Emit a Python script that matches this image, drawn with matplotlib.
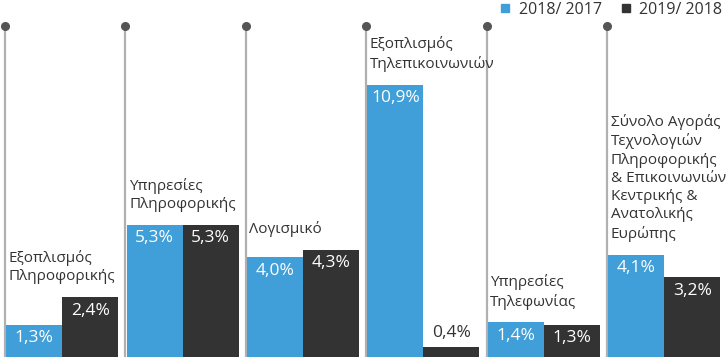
import matplotlib.pyplot as plt
from matplotlib.lines import Line2D

plt.rcParams['font.family'] = ['Open Sans', 'DejaVu Sans']

categories = [
    'Εξοπλισμός\nΠληροφορικής',
    'Υπηρεσίες\nΠληροφορικής',
    'Λογισμικό',
    'Εξοπλισμός\nΤηλεπικοινωνιών',
    'Υπηρεσίες\nΤηλεφωνίας',
    'Σύνολο Αγοράς\nΤεχνολογιών\nΠληροφορικής\n& Επικοινωνιών\nΚεντρικής &\nΑνατολικής\nΕυρώπης',
]
growth_2018 = [1.3, 5.3, 4.0, 10.9, 1.4, 4.1]
growth_2019 = [2.4, 5.3, 4.3, 0.4, 1.3, 3.2]
series_names = ['2018/ 2017', '2019/ 2018']

blue = '#409fd8'
dark = '#333333'
txt = '#333333'

W, H = 728, 364
fig = plt.figure(figsize=(W / 100, H / 100), dpi=100)
# pixel layout: baseline at y=357, top dot at y=26, 25 px per 1%
ax = fig.add_axes([0, (H - 357) / H, 1, (357 - 26) / H])
step = 120.4
ymax = (357 - 26) / 25
ax.set_xlim(-5 / step, (W - 5) / step)
ax.set_ylim(0, ymax)
ax.axis('off')

bw = 56 / step
for i, (name, a, b) in enumerate(zip(categories, growth_2018, growth_2019)):
    ax.plot([i, i], [0, ymax], color='#b0b0b0', lw=1.6, zorder=1)
    ax.plot([i], [ymax], 'o', color='#555555', ms=5.5, zorder=2, clip_on=False)
    ax.bar(i + 0.01, a, width=bw, align='edge', color=blue, zorder=3)
    ax.bar(i + 0.01 + bw, b, width=bw, align='edge', color=dark, zorder=3)
    for x, v in [(i + 0.01 + bw / 2, a), (i + 0.01 + 1.5 * bw, b)]:
        label = f'{v:.1f}%'.replace('.', ',')
        if v * 25 < 30:
            ax.annotate(label, (x, v), xytext=(0, 4), textcoords='offset points',
                        ha='center', va='bottom', color=txt, fontsize=12.5)
        else:
            ax.annotate(label, (x, v), xytext=(0, -4), textcoords='offset points',
                        ha='center', va='top', color='white', fontsize=12.5)
    ax.annotate(name, (i + 0.03, max(a, b)), xytext=(0, 9), textcoords='offset points',
                ha='left', va='bottom', color=txt, fontsize=11, linespacing=1.3)

handles = [Line2D([], [], marker='s', ls='', color=c, ms=6) for c in (blue, dark)]
fig.legend(handles, series_names, loc='upper right', bbox_to_anchor=(1.012, 1.035),
           ncol=2, frameon=False, fontsize=11.5, handletextpad=0.35, columnspacing=1.0,
           handlelength=1.0, labelcolor=txt)

fig.savefig('out.png', dpi=100)
